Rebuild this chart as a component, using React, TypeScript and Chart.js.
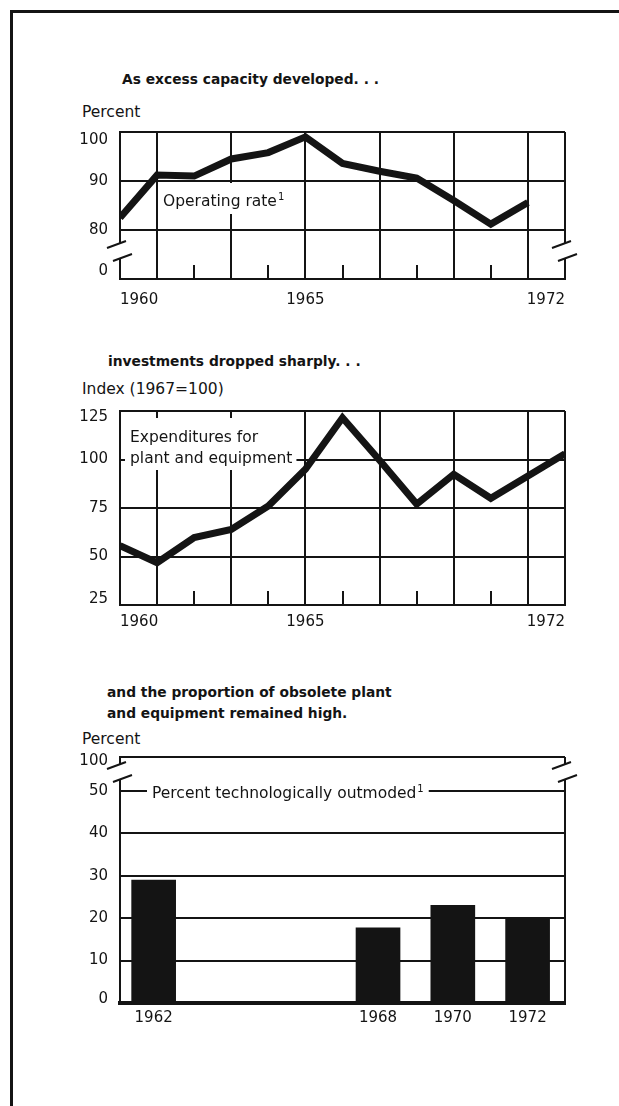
import React, { useEffect, useRef } from 'react';
import { Chart, registerables } from 'chart.js';

Chart.register(...registerables);

// ---------------- data ----------------
const RATE_YEARS = [1960, 1961, 1962, 1963, 1964, 1965, 1966, 1967, 1968, 1969, 1970, 1971];
const OPERATING_RATE = [82.5, 91.2, 91, 94.5, 95.8, 99, 93.6, 92, 90.6, 86, 81.2, 85.6];
const RATE_TICK_VALUES = [70, 80, 90, 100];
const RATE_TICK_LABELS = ['0', '80', '90', '100'];

const INVEST_YEARS = [1960, 1961, 1962, 1963, 1964, 1965, 1966, 1967, 1968, 1969, 1970, 1971, 1972];
const EXPENDITURES = [55.6, 46.8, 59.8, 64, 76, 95, 121.5, 99.6, 77, 92.4, 80, 91.5, 103];
const INVEST_TICK_VALUES = [25, 50, 75, 100, 125];
const INVEST_TICK_LABELS = ['25', '50', '75', '100', '125'];

const OUTMODED_YEARS = [1962, 1968, 1970, 1972];
const OUTMODED_PCT = [29, 17.7, 23, 20.2];
const OUTMODED_TICK_VALUES = [0, 10, 20, 30, 40, 50, 58];
const OUTMODED_TICK_LABELS = ['0', '10', '20', '30', '40', '50', '100'];

const YEAR_LABELS = [1960, 1965, 1972];
const GRID_YEARS = [1961, 1963, 1965, 1967, 1969, 1971, 1972];
const MINOR_TICK_YEARS = [1962, 1964, 1966, 1968, 1970];

const TITLE_1 = 'As excess capacity developed. . .';
const TITLE_2 = 'investments dropped sharply. . .';
const TITLE_3A = 'and the proportion of obsolete plant';
const TITLE_3B = 'and equipment remained high.';
const UNIT_1 = 'Percent';
const UNIT_2 = 'Index (1967=100)';
const UNIT_3 = 'Percent';

// ---------------- style ----------------
const INK = '#141414';
const FONT = "'DejaVu Sans', sans-serif";
const TICK_FONT = { family: FONT, size: 15 };

type Seg = { t: string; sup?: boolean };
type LabelLine = { baseline: number; segs: Seg[] };
type LabelSpec = {
  x: number;
  boxLeft: number;
  boxTop: number;
  boxBottom: number;
  padRight: number;
  lines: LabelLine[];
};

function boxLabel(spec: LabelSpec) {
  return {
    id: 'boxLabel',
    beforeDatasetsDraw(chart: any) {
      const { ctx, chartArea: a } = chart;
      ctx.save();
      const main = `15.5px ${FONT}`;
      const sup = `10px ${FONT}`;
      let maxW = 0;
      for (const ln of spec.lines) {
        let w = 0;
        for (const s of ln.segs) {
          ctx.font = s.sup ? sup : main;
          w += ctx.measureText(s.t).width + (s.sup ? 1 : 0);
        }
        maxW = Math.max(maxW, w);
      }
      ctx.fillStyle = '#fff';
      ctx.fillRect(
        a.left + spec.boxLeft,
        a.top + spec.boxTop,
        spec.x - spec.boxLeft + maxW + spec.padRight,
        spec.boxBottom - spec.boxTop
      );
      ctx.fillStyle = INK;
      ctx.textBaseline = 'alphabetic';
      ctx.textAlign = 'left';
      for (const ln of spec.lines) {
        let x = a.left + spec.x;
        for (const s of ln.segs) {
          ctx.font = s.sup ? sup : main;
          if (s.sup) x += 1;
          ctx.fillText(s.t, x, a.top + ln.baseline - (s.sup ? 6 : 0));
          x += ctx.measureText(s.t).width;
        }
      }
      ctx.restore();
    },
  };
}

function innerTicks(values: number[], length: number) {
  return {
    id: 'innerTicks',
    beforeDatasetsDraw(chart: any) {
      const { ctx, chartArea: a } = chart;
      const xs = chart.scales.x;
      ctx.save();
      ctx.strokeStyle = INK;
      ctx.lineWidth = 2;
      ctx.beginPath();
      for (const v of values) {
        const px = Math.round(xs.getPixelForValue(v));
        ctx.moveTo(px, a.bottom);
        ctx.lineTo(px, a.bottom - length);
      }
      ctx.stroke();
      ctx.restore();
    },
  };
}

function axisBreak(g0: number, g1: number) {
  return {
    id: 'axisBreak',
    afterDraw(chart: any) {
      const { ctx, chartArea: a } = chart;
      ctx.save();
      for (const x of [a.left, a.right]) {
        ctx.fillStyle = '#fff';
        ctx.fillRect(x - 3, a.top + g0, 6, g1 - g0);
        ctx.strokeStyle = INK;
        ctx.lineWidth = 2;
        ctx.beginPath();
        ctx.moveTo(x - 13, a.top + g0 + 5);
        ctx.lineTo(x + 6, a.top + g0 - 2);
        ctx.moveTo(x - 7, a.top + g1 + 3);
        ctx.lineTo(x + 12, a.top + g1 - 4);
        ctx.stroke();
      }
      ctx.restore();
    },
  };
}

function yearAxis(min: number, max: number, height: number, pad: number) {
  return {
    type: 'linear',
    min,
    max,
    offset: false,
    afterBuildTicks: (s: any) => {
      const t: { value: number }[] = [];
      for (let v = min; v <= max; v++) t.push({ value: v });
      s.ticks = t;
    },
    afterFit: (s: any) => {
      s.height = height;
    },
    grid: {
      color: (c: any) => (c.tick && GRID_YEARS.includes(c.tick.value) ? INK : 'transparent'),
      lineWidth: 2,
      drawTicks: false,
    },
    border: { display: true, color: INK, width: 2 },
    ticks: {
      autoSkip: false,
      maxRotation: 0,
      minRotation: 0,
      align: 'inner',
      padding: pad,
      color: INK,
      font: TICK_FONT,
      callback: (v: number) => (YEAR_LABELS.includes(v) ? String(v) : ''),
    },
  };
}

function valueAxis(min: number, max: number, values: number[], labels: string[], lh: string) {
  return {
    type: 'linear',
    min,
    max,
    afterBuildTicks: (s: any) => {
      s.ticks = values.map((value) => ({ value }));
    },
    afterFit: (s: any) => {
      s.width = 120;
    },
    grid: {
      color: (c: any) => (c.tick && c.tick.value !== min ? INK : 'transparent'),
      lineWidth: 2,
      drawTicks: false,
    },
    border: { display: true, color: INK, width: 2 },
    ticks: {
      padding: 12,
      color: INK,
      font: { family: FONT, size: 15, lineHeight: lh },
      callback: (_v: number, i: number) => {
        const l = labels[i];
        if (i === values.length - 1) return ['', l];
        if (i === 0) return [l, ''];
        return l;
      },
    },
  };
}

const baseOptions = {
  animation: false,
  responsive: false,
  events: [],
};

function rateConfig(): any {
  return {
    type: 'line',
    data: {
      datasets: [
        {
          data: RATE_YEARS.map((x, i) => ({ x, y: OPERATING_RATE[i] })),
          borderColor: INK,
          borderWidth: 7,
          pointRadius: 0,
          tension: 0,
          fill: false,
        },
      ],
    },
    options: {
      ...baseOptions,
      layout: { padding: { top: 37, right: 54, bottom: 0, left: 0 } },
      plugins: { legend: { display: false }, tooltip: { enabled: false } },
      scales: {
        x: yearAxis(1960, 1972, 41, 12),
        y: valueAxis(70, 100, RATE_TICK_VALUES, RATE_TICK_LABELS, '16px'),
      },
    },
    plugins: [
      innerTicks(MINOR_TICK_YEARS, 14),
      boxLabel({
        x: 43,
        boxLeft: 39,
        boxTop: 51,
        boxBottom: 82,
        padRight: 3,
        lines: [{ baseline: 74, segs: [{ t: 'Operating rate' }, { t: '1', sup: true }] }],
      }),
      axisBreak(111, 126),
    ],
  };
}

function investConfig(): any {
  return {
    type: 'line',
    data: {
      datasets: [
        {
          data: INVEST_YEARS.map((x, i) => ({ x, y: EXPENDITURES[i] })),
          borderColor: INK,
          borderWidth: 7,
          pointRadius: 0,
          tension: 0,
          fill: false,
        },
      ],
    },
    options: {
      ...baseOptions,
      layout: { padding: { top: 26, right: 54, bottom: 0, left: 0 } },
      plugins: { legend: { display: false }, tooltip: { enabled: false } },
      scales: {
        x: yearAxis(1960, 1972, 30, 8),
        y: valueAxis(25, 125, INVEST_TICK_VALUES, INVEST_TICK_LABELS, '12px'),
      },
    },
    plugins: [
      innerTicks(MINOR_TICK_YEARS, 14),
      boxLabel({
        x: 10,
        boxLeft: 5,
        boxTop: 7,
        boxBottom: 59,
        padRight: 4,
        lines: [
          { baseline: 31, segs: [{ t: 'Expenditures for' }] },
          { baseline: 52, segs: [{ t: 'plant and equipment' }] },
        ],
      }),
    ],
  };
}

const OUTMODED_X_MIN = 1961.1;
const OUTMODED_X_MAX = 1973;

function outmodedConfig(): any {
  return {
    type: 'bar',
    data: {
      datasets: [
        {
          data: OUTMODED_YEARS.map((x, i) => ({ x, y: OUTMODED_PCT[i] })),
          backgroundColor: INK,
          borderWidth: 0,
          barThickness: 44,
        },
      ],
    },
    options: {
      ...baseOptions,
      layout: { padding: { top: 22, right: 54, bottom: 0, left: 0 } },
      plugins: { legend: { display: false }, tooltip: { enabled: false } },
      scales: {
        x: {
          type: 'linear',
          min: OUTMODED_X_MIN,
          max: OUTMODED_X_MAX,
          offset: false,
          afterBuildTicks: (s: any) => {
            s.ticks = [...OUTMODED_YEARS, OUTMODED_X_MAX].map((value) => ({ value }));
          },
          afterFit: (s: any) => {
            s.height = 37;
          },
          grid: {
            offset: false,
            color: (c: any) => (c.tick && c.tick.value === OUTMODED_X_MAX ? INK : 'transparent'),
            lineWidth: 2,
            drawTicks: false,
          },
          border: { display: true, color: INK, width: 4 },
          ticks: {
            autoSkip: false,
            maxRotation: 0,
            minRotation: 0,
            padding: 6,
            color: INK,
            font: TICK_FONT,
            callback: (v: number) => (OUTMODED_YEARS.includes(v) ? String(v) : ''),
          },
        },
        y: valueAxis(0, 58, OUTMODED_TICK_VALUES, OUTMODED_TICK_LABELS, '8px'),
      },
    },
    plugins: [
      boxLabel({
        x: 32,
        boxLeft: 27,
        boxTop: 26,
        boxBottom: 47,
        padRight: 5,
        lines: [{ baseline: 41, segs: [{ t: 'Percent technologically outmoded' }, { t: '1', sup: true }] }],
      }),
      axisBreak(7, 22),
    ],
  };
}

function ChartCanvas({ top, height, makeConfig }: { top: number; height: number; makeConfig: () => any }) {
  const ref = useRef<HTMLCanvasElement>(null);
  useEffect(() => {
    if (!ref.current) return;
    const chart = new Chart(ref.current, makeConfig());
    return () => chart.destroy();
  }, []);
  return (
    <canvas
      ref={ref}
      width={619}
      height={height}
      style={{ position: 'absolute', left: 0, top, width: 619, height, display: 'block' }}
    />
  );
}

const titleStyle = (left: number, top: number): React.CSSProperties => ({
  position: 'absolute',
  left,
  top,
  fontFamily: FONT,
  fontWeight: 'bold',
  fontSize: 13.8,
  lineHeight: '13.8px',
  color: INK,
  whiteSpace: 'nowrap',
});

const unitStyle = (left: number, top: number): React.CSSProperties => ({
  position: 'absolute',
  left,
  top,
  fontFamily: FONT,
  fontSize: 15.5,
  lineHeight: '15.5px',
  color: INK,
  whiteSpace: 'nowrap',
});

export default function App() {
  return (
    <div
      style={{
        position: 'fixed',
        left: 0,
        top: 0,
        width: 619,
        height: 1106,
        background: '#fff',
        overflow: 'hidden',
      }}
    >
      <div style={{ position: 'absolute', left: 10, top: 10, width: 609, height: 3, background: INK }} />
      <div style={{ position: 'absolute', left: 10, top: 10, width: 3, height: 1096, background: INK }} />

      <div style={titleStyle(122, 73.3)}>{TITLE_1}</div>
      <div style={unitStyle(82, 104.9)}>{UNIT_1}</div>
      <ChartCanvas top={95} height={225} makeConfig={rateConfig} />

      <div style={titleStyle(108, 355)}>{TITLE_2}</div>
      <div style={unitStyle(82, 381.9)}>{UNIT_2}</div>
      <ChartCanvas top={385} height={250} makeConfig={investConfig} />

      <div style={{ ...titleStyle(107, 681.7), lineHeight: '21px' }}>
        {TITLE_3A}
        <br />
        {TITLE_3B}
      </div>
      <div style={unitStyle(82, 731.9)}>{UNIT_3}</div>
      <ChartCanvas top={735} height={305} makeConfig={outmodedConfig} />
    </div>
  );
}
